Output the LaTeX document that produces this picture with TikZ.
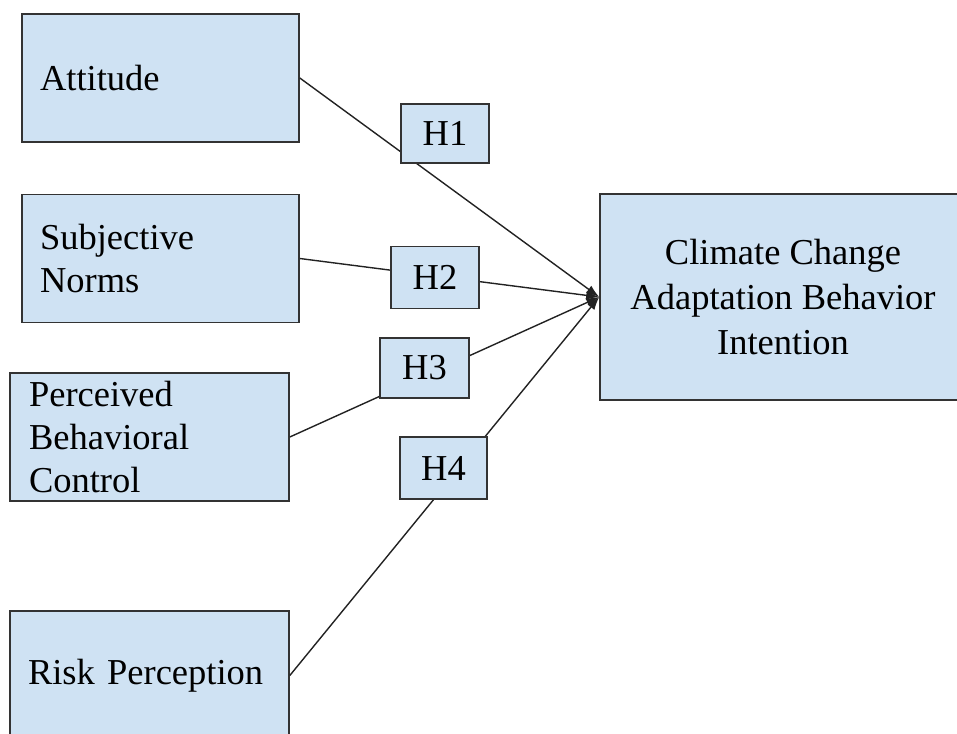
\documentclass[tikz,border=0pt]{standalone}
\usepackage{fontspec}
\setmainfont{Liberation Serif}
\usetikzlibrary{arrows.meta}
\definecolor{boxfill}{HTML}{CFE2F3}
\definecolor{edgecol}{HTML}{333333}
\definecolor{linecol}{HTML}{222222}
\begin{document}
\begin{tikzpicture}[x=1pt,y=-1pt,
  box/.style={draw=edgecol, line width=1.6pt, fill=boxfill, rectangle,
    font=\fontsize{36.5pt}{43pt}\selectfont, inner ysep=0pt},
  srcbox/.style={box, align=left, minimum height=128pt},
  hbox/.style={box, inner sep=0pt, align=center},
  conn/.style={draw=linecol, line width=1.4pt, -{Latex[length=13pt,width=9pt]}}
]
\useasboundingbox (0,0) rectangle (957,733);
\begin{scope}
\clip (0,0) rectangle (957,733);
% source boxes
\node[srcbox, text width=241pt, inner xsep=18pt] (att) at (160.5,78) {Attitude};
\node[srcbox, text width=241pt, inner xsep=18pt] (sn) at (160.5,258.5) {Subjective\\Norms};
\node[srcbox, text width=241pt, inner xsep=19pt] (pbc) at (149.5,437) {Perceived\\Behavioral\\Control};
\node[srcbox, text width=243pt, inner xsep=18pt, minimum height=129pt] (rp) at (149.5,675.5) {Risk Perception};
% target
\node[box, align=center, minimum width=366pt, minimum height=206pt,
  font=\fontsize{36.5pt}{45pt}\selectfont] (cl) at (783,297)
  {Climate Change\\Adaptation Behavior\\Intention};
% connectors
\draw[conn] (att.east) -- (cl.west);
\draw[conn] (sn.east) -- (cl.west);
\draw[conn] (pbc.east) -- (cl.west);
\draw[conn] (rp.east) -- (cl.west);
% hypothesis labels
\node[hbox, minimum width=88pt, minimum height=59pt] (h1) at (445,133.5) {H1};
\node[hbox, minimum width=88pt, minimum height=62pt] (h2) at (435,277.5) {H2};
\node[hbox, minimum width=89pt, minimum height=60pt] (h3) at (424.5,368) {H3};
\node[hbox, minimum width=87pt, minimum height=62pt] (h4) at (443.5,468) {H4};
\end{scope}
\end{tikzpicture}
\end{document}
